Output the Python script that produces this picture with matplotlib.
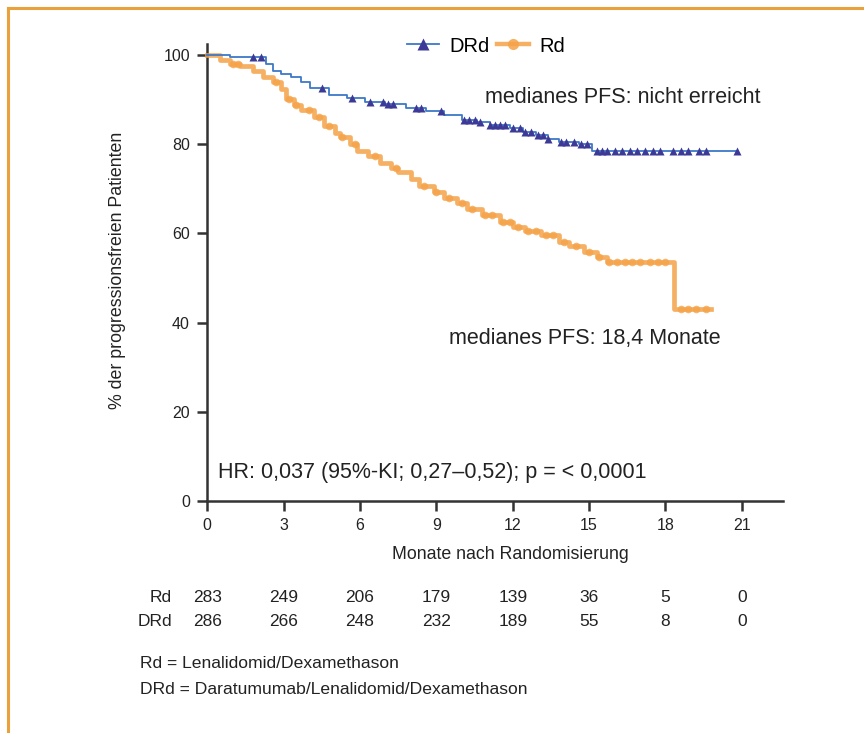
import numpy as np
import matplotlib.pyplot as plt
from matplotlib.lines import Line2D
from matplotlib.transforms import blended_transform_factory

plt.rcParams['font.family'] = ['Liberation Sans', 'DejaVu Sans']

# Kaplan-Meier steps (months, % progression free)
drd_t = [0, 0.9, 2.3, 2.6, 2.9, 3.3, 3.7, 4.05, 4.8, 5.5, 6.2, 7.0, 7.8, 8.6, 9.3,
         10.0, 10.6, 11.1, 11.9, 12.4, 12.9, 13.4, 13.8, 14.6, 15.1]
drd_s = [100, 99.5, 98, 96.5, 95.7, 95, 94, 92.7, 91, 90.5, 89.6, 89.1, 88.2, 87.5, 86.6,
         85.5, 85, 84.3, 83.6, 82.8, 82, 81.3, 80.5, 80, 78.5]
drd_end = 20.8
drd_cens = [1.8, 2.1, 4.5, 5.7, 6.4, 6.9, 7.1, 7.3, 8.2, 8.4, 9.2, 10.1, 10.3, 10.5, 10.7,
            11.1, 11.3, 11.5, 11.7, 12.0, 12.3, 12.5, 12.7, 13.0, 13.2, 13.4, 13.9, 14.1,
            14.4, 14.7, 14.9, 15.3, 15.5, 15.7, 16.0, 16.3, 16.6, 16.9, 17.2, 17.5, 17.8,
            18.3, 18.6, 18.9, 19.3, 19.6, 20.8]

rd_t = [0, 0.5, 0.9, 1.3, 1.8, 2.2, 2.6, 2.9, 3.1, 3.4, 3.7, 4.2, 4.6, 5.0, 5.2, 5.6, 5.9,
        6.3, 6.8, 7.2, 7.5, 8.0, 8.3, 8.9, 9.3, 9.8, 10.2, 10.8, 11.5, 12.0, 12.5, 13.1,
        13.8, 14.2, 14.8, 15.3, 15.7, 18.35]
rd_s = [100, 99, 98, 97.5, 96.5, 95.2, 94, 92.3, 90.2, 88.8, 87.7, 86.2, 84, 82.5, 81.6,
        80, 78.5, 77.3, 75.7, 74.8, 73.7, 72.2, 70.6, 69.2, 68, 66.8, 65.4, 64.2, 62.6,
        61.5, 60.5, 59.6, 58.2, 57.3, 55.8, 54.8, 53.5, 43]
rd_end = 19.8
rd_cens = [1.0, 1.2, 2.7, 3.2, 3.5, 4.0, 4.4, 4.8, 5.3, 5.8, 6.6, 7.4, 8.5, 9.0, 9.5, 10.0,
           10.4, 10.9, 11.2, 11.6, 11.9, 12.2, 12.6, 12.9, 13.3, 13.6, 14.0, 14.5, 15.0,
           15.4, 15.8, 16.1, 16.4, 16.7, 17.0, 17.4, 17.7, 18.0, 18.6, 18.9, 19.2, 19.6]

months = [0, 3, 6, 9, 12, 15, 18, 21]
risk_rd = [283, 249, 206, 179, 139, 36, 5, 0]
risk_drd = [286, 266, 248, 232, 189, 55, 8, 0]

c_drd_line = '#3d78c8'
c_drd_mark = '#3c3a96'
c_rd = '#f5a348'
c_axis = '#333333'
c_frame = '#e9a23b'


def at(t, s, x):
    # value of the step curve at time x
    i = np.searchsorted(t, x, side='right') - 1
    return np.array(s)[i]


W, H = 864, 733
fig = plt.figure(figsize=(W / 100, H / 100), dpi=100)
ax = fig.add_axes([207.3 / W, 1 - 501 / H, (783 - 207.3) / W, (501 - 44) / H])

# Rd
ax.step(rd_t + [rd_end], rd_s + [rd_s[-1]], where='post', color=c_rd, lw=3.4,
        alpha=0.85, clip_on=False, zorder=3)
ax.plot(rd_cens, at(rd_t, rd_s, rd_cens), 'o', color=c_rd, ms=5.5, alpha=0.8,
        mec='none', clip_on=False, zorder=3)

# DRd
ax.step(drd_t + [drd_end], drd_s + [drd_s[-1]], where='post', color=c_drd_line, lw=1.3,
        clip_on=False, zorder=4)
ax.plot(drd_cens, at(drd_t, drd_s, drd_cens), '^', color=c_drd_mark, ms=6,
        mec='none', clip_on=False, zorder=5)

ax.set_xlim(0, 22.62)
ax.set_ylim(0, 102.5)
ax.set_xticks(months)
ax.set_yticks([0, 20, 40, 60, 80, 100])
for sp in ['top', 'right']:
    ax.spines[sp].set_visible(False)
for sp in ['left', 'bottom']:
    ax.spines[sp].set_color(c_axis)
    ax.spines[sp].set_linewidth(1.8)
ax.tick_params(axis='both', direction='out', length=7.5, width=1.8, color=c_axis,
               labelsize=11.5, labelcolor='#222222', pad=5)

ax.set_xlabel('Monate nach Randomisierung', fontsize=12.8, color='#222222')
ax.xaxis.set_label_coords(0.526, -0.098)
fig.text(118 / W, 1 - 270 / H, '% der progressionsfreien Patienten', rotation=90,
         fontsize=12.8, color='#222222', ha='center', va='center')

ax.text(10.9, 90.6, 'medianes PFS: nicht erreicht', fontsize=15.5, color='#222222',
        va='center')
ax.text(9.5, 36.5, 'medianes PFS: 18,4 Monate', fontsize=15.5, color='#222222',
        va='center')
ax.text(0.42, 6.3, 'HR: 0,037 (95%-KI; 0,27\u20130,52); p = < 0,0001', fontsize=15.5,
        color='#222222', va='center')

handles = [Line2D([], [], color=c_drd_line, lw=1.3, marker='^', ms=8, mfc=c_drd_mark,
                  mec='none'),
           Line2D([], [], color=c_rd, lw=3.2, marker='o', ms=8, mfc=c_rd, mec='none',
                  alpha=0.85)]
fig.legend(handles, ['DRd', 'Rd'], loc='center', bbox_to_anchor=(486 / W, 1 - 46 / H),
           ncol=2, frameon=False, fontsize=14.5, handlelength=1.6, handletextpad=0.5,
           columnspacing=0.35, borderpad=0)

# number at risk
tr = blended_transform_factory(ax.transData, fig.transFigure)
for row, (name, vals) in enumerate([('Rd', risk_rd), ('DRd', risk_drd)]):
    y = 1 - (597 + row * 25) / H
    fig.text(172 / W, y, name, ha='right', va='center', fontsize=12.5, color='#222222')
    for m, v in zip(months, vals):
        fig.text(m, y, str(v), transform=tr, ha='center', va='center', fontsize=12.5,
                 color='#222222')

fig.text(140 / W, 1 - 663 / H, 'Rd = Lenalidomid/Dexamethason', fontsize=12.6,
         va='center', color='#222222')
fig.text(140 / W, 1 - 690 / H, 'DRd = Daratumumab/Lenalidomid/Dexamethason', fontsize=12.6,
         va='center', color='#222222')

# orange frame, top and left edge only
fig.add_artist(Line2D([7.5 / W, 7.5 / W], [0, 1 - 7.5 / H], color=c_frame, lw=2.2))
fig.add_artist(Line2D([7.5 / W, 1], [1 - 7.5 / H, 1 - 7.5 / H], color=c_frame, lw=2.2))

fig.savefig('out.png', dpi=100)
